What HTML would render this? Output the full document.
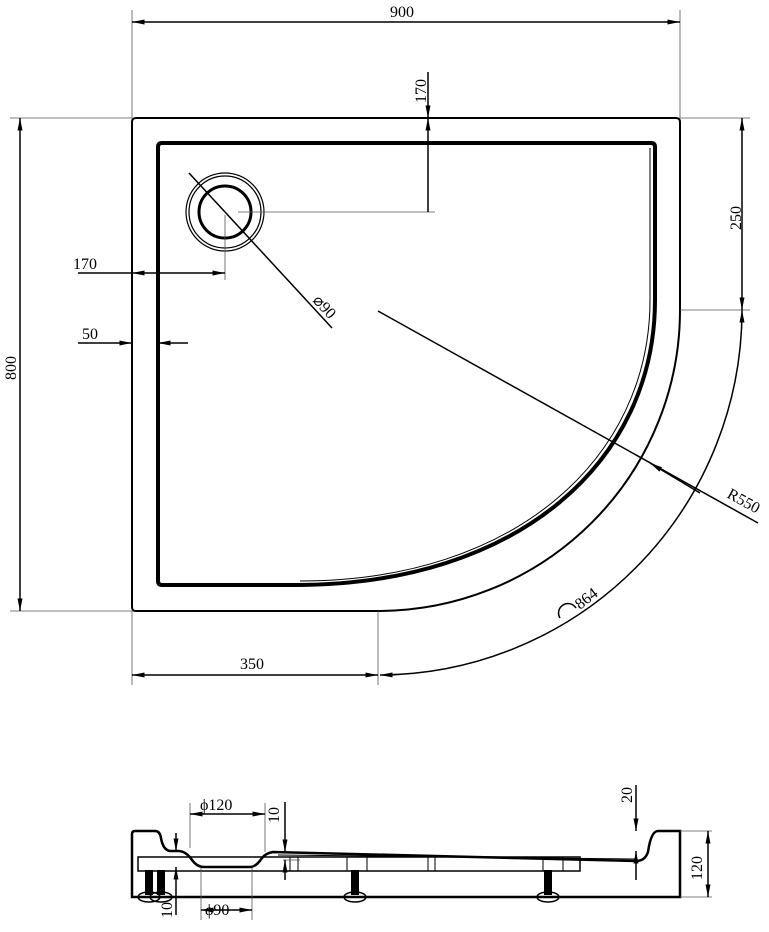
<!DOCTYPE html>
<html><head><meta charset="utf-8"><style>
html,body{margin:0;padding:0;background:#fff;}
svg{display:block;}
text{font-family:"Liberation Serif",serif;font-size:16px;fill:#000;}
</style></head><body>
<svg width="769" height="932" viewBox="0 0 769 932" xmlns="http://www.w3.org/2000/svg">
<defs>
<marker id="a" viewBox="0 0 10 4" refX="10" refY="2" markerWidth="14" markerHeight="5" orient="auto-start-reverse" markerUnits="userSpaceOnUse"><path d="M0,0 L10,2 L0,4 Z" fill="#000"/></marker>
</defs>
<g fill="none" stroke="#000">
<!-- outer tray -->
<path d="M378,611 L136,611 Q132,611 132,607 L132,122 Q132,118 136,118 L676,118 Q680,118 680,122 L680,310 A302,301 0 0 1 378,611" stroke-width="2"/>
<!-- inner rim -->
<path d="M295,585 L162,585 Q158,585 158,581 L158,147 Q158,143 162,143 L651,143 Q655,143 655,147 L655,300 C655,460 520,585 295,585" stroke-width="4"/>
<path d="M300,581 C515,581 650,458 650,300 L650,148" stroke-width="1"/>
<!-- drain -->
<circle cx="225" cy="212" r="39" stroke-width="1.2"/>
<circle cx="225" cy="212" r="36" stroke-width="1.2"/>
<circle cx="225" cy="212" r="26" stroke-width="3"/>
<line x1="189" y1="173" x2="332" y2="328" stroke-width="1.5"/>
<!-- thin extension lines -->
<g stroke="#555" stroke-width="0.8">
<line x1="132" y1="10" x2="132" y2="118"/>
<line x1="680" y1="10" x2="680" y2="118"/>
<line x1="10" y1="118" x2="132" y2="118"/>
<line x1="10" y1="611" x2="132" y2="611"/>
<line x1="680" y1="118" x2="750" y2="118"/>
<line x1="680" y1="310" x2="750" y2="310"/>
<line x1="238" y1="212" x2="435" y2="212"/>
<line x1="225" y1="215" x2="225" y2="280"/>
<line x1="132" y1="611" x2="132" y2="685"/>
<line x1="378" y1="611" x2="378" y2="685"/>
</g>
<!-- dims -->
<g stroke-width="1.5">
<line x1="132" y1="22" x2="680" y2="22" marker-start="url(#a)" marker-end="url(#a)"/>
<line x1="20" y1="118" x2="20" y2="611" marker-start="url(#a)" marker-end="url(#a)"/>
<line x1="742" y1="118" x2="742" y2="310" marker-start="url(#a)" marker-end="url(#a)"/>
<line x1="428" y1="72" x2="428" y2="118" marker-end="url(#a)"/>
<line x1="428" y1="212" x2="428" y2="118" marker-end="url(#a)"/>
<line x1="132" y1="273" x2="225" y2="273" marker-start="url(#a)" marker-end="url(#a)"/>
<line x1="78" y1="273" x2="132" y2="273"/>
<line x1="78" y1="343" x2="132" y2="343" marker-end="url(#a)"/>
<line x1="188" y1="343" x2="158" y2="343" marker-end="url(#a)"/>
<line x1="132" y1="675" x2="378" y2="675" marker-start="url(#a)" marker-end="url(#a)"/>
<line x1="378" y1="311" x2="758" y2="523"/>
<line x1="700" y1="493" x2="650" y2="463" marker-end="url(#a)"/>
<path d="M380,675 A364,365 0 0 0 742,310" marker-start="url(#a)" marker-end="url(#a)"/>
<path d="M560,618 A9,9 0 0 1 576,608"/>
</g>
</g>
<text x="390" y="17">900</text>
<text transform="translate(426,103) rotate(-90)">170</text>
<text transform="translate(741,230) rotate(-90)">250</text>
<text transform="translate(16,380) rotate(-90)">800</text>
<text x="73" y="269">170</text>
<text x="82" y="339">50</text>
<text x="240" y="669">350</text>
<text transform="translate(312,301) rotate(47)">⌀90</text>
<text transform="translate(726,497) rotate(29)">R550</text>
<text transform="translate(580,610) rotate(-38)">864</text>

<!-- cross-section -->
<g fill="none" stroke="#000">
<path d="M132,897 L132,834 Q132,831 135,831 L155,831 Q160,831 161,838 Q163,850 170,851 L178,851 Q186,851 192,860 Q197,867 204,867 L250,867 Q256,867 262,858 Q266,853 273,852 L636,861 Q645,861 648,852 Q651,831 658,831 L680,831 L680,897 Z" stroke-width="2.5"/>
<path d="M278,855 L636,859" stroke-width="1"/>
<rect x="138" y="857" width="442" height="14" stroke-width="1.5"/>
<g stroke-width="1">
<line x1="290" y1="857" x2="290" y2="871"/><line x1="298" y1="857" x2="298" y2="871"/>
<line x1="347" y1="857" x2="347" y2="871"/><line x1="367" y1="857" x2="367" y2="871"/>
<line x1="428" y1="857" x2="428" y2="871"/><line x1="435" y1="857" x2="435" y2="871"/>
<line x1="543" y1="857" x2="543" y2="871"/><line x1="563" y1="857" x2="563" y2="871"/>
</g>
</g>
<g fill="#000">
<rect x="145" y="870" width="8" height="25"/><rect x="157" y="870" width="8" height="25"/>
<rect x="351" y="870" width="8" height="25"/><rect x="544" y="870" width="8" height="25"/>
</g>
<g fill="none" stroke="#000" stroke-width="1.5">
<ellipse cx="149" cy="897" rx="11" ry="5"/><ellipse cx="161" cy="897" rx="11" ry="5"/>
<ellipse cx="355" cy="897" rx="11" ry="5"/><ellipse cx="548" cy="897" rx="11" ry="5"/>
</g>
<g fill="none" stroke="#000">
<g stroke="#555" stroke-width="0.8">
<line x1="190" y1="803" x2="190" y2="848"/><line x1="265" y1="803" x2="265" y2="852"/>
<line x1="201" y1="868" x2="201" y2="920"/><line x1="252" y1="868" x2="252" y2="920"/>
<line x1="283" y1="860" x2="300" y2="860"/>
<line x1="680" y1="831" x2="712" y2="831"/><line x1="680" y1="897" x2="712" y2="897"/>
</g>
<g stroke-width="1.5">
<line x1="190" y1="814" x2="265" y2="814" marker-start="url(#a)" marker-end="url(#a)"/>
<line x1="201" y1="910" x2="252" y2="910" marker-start="url(#a)" marker-end="url(#a)"/>
<line x1="285" y1="802" x2="285" y2="852" marker-end="url(#a)"/>
<line x1="285" y1="880" x2="285" y2="860" marker-end="url(#a)"/>
<line x1="176" y1="833" x2="176" y2="851" marker-end="url(#a)"/>
<line x1="176" y1="915" x2="176" y2="867" marker-end="url(#a)"/>
<line x1="636" y1="785" x2="636" y2="831" marker-end="url(#a)"/>
<line x1="636" y1="880" x2="636" y2="851" marker-end="url(#a)"/>
<line x1="708" y1="831" x2="708" y2="897" marker-start="url(#a)" marker-end="url(#a)"/>
</g>
</g>
<text x="200" y="810">ϕ120</text>
<text x="205" y="915">ϕ90</text>
<text transform="translate(279,823) rotate(-90)">10</text>
<text transform="translate(172,918) rotate(-90)">10</text>
<text transform="translate(632,803) rotate(-90)">20</text>
<text transform="translate(702,880) rotate(-90)">120</text>
</svg>
</body></html>
